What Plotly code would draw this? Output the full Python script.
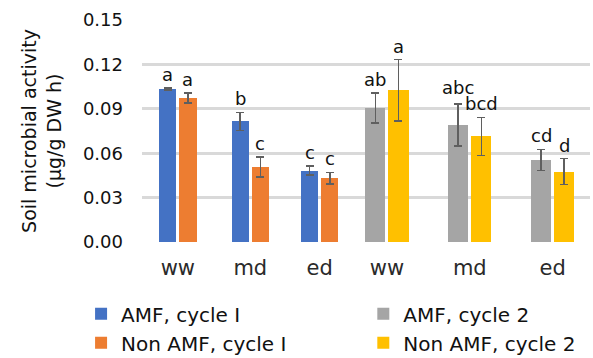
import plotly.graph_objects as go

# Water regimes (x tick labels) for the two drought cycles
regimes = ["ww", "md", "ed", "ww", "md", "ed"]
group_pos = [0.48, 1.45, 2.38, 3.28, 4.39, 5.5]   # horizontal centre of each group

# Soil microbial activity (µg/g DW h), means and standard errors
amf_c1 = [0.1034, 0.0815, 0.0483]
amf_c1_err = [0.0005, 0.0061, 0.0032]
non_c1 = [0.0973, 0.0506, 0.0430]
non_c1_err = [0.0034, 0.0068, 0.0040]
amf_c2 = [0.0906, 0.0790, 0.0555]
amf_c2_err = [0.0102, 0.0142, 0.0071]
non_c2 = [0.1024, 0.0713, 0.0476]
non_c2_err = [0.0208, 0.0129, 0.0088]

# Significance letters
amf_c1_lbl = ["a", "b", "c"]
non_c1_lbl = ["a", "c", "c"]
amf_c2_lbl = ["ab", "abc", "cd"]
non_c2_lbl = ["a", "bcd", "d"]

FONT = "DejaVu Sans"
TXT = "#111111"
ERR_COLOR = "#5f5f5f"

w1, w2, gap = 0.23, 0.27, 0.04

fig = go.Figure()


def add_series(name, pos, vals, errs, color, width, side, legend):
    xs = [p + side * (width / 2 + gap / 2) for p in pos]
    fig.add_trace(go.Bar(
        name=name, x=xs, y=vals, width=[width] * len(vals),
        marker=dict(color=color, line=dict(width=0)),
        error_y=dict(type="data", array=errs, visible=True,
                     color=ERR_COLOR, thickness=1.6, width=4),
        legend=legend, legendgroup=name,
    ))
    return xs


x_a1 = add_series("AMF, cycle I", group_pos[:3], amf_c1, amf_c1_err, "#4472C4", w1, -1, "legend")
x_n1 = add_series("Non AMF, cycle I", group_pos[:3], non_c1, non_c1_err, "#ED7D31", w1, 1, "legend")
x_a2 = add_series("AMF, cycle 2", group_pos[3:], amf_c2, amf_c2_err, "#A5A5A5", w2, -1, "legend2")
x_n2 = add_series("Non AMF, cycle 2", group_pos[3:], non_c2, non_c2_err, "#FFC000", w2, 1, "legend2")

# Letters above the error bars ("abc" lifted a little so it clears "bcd")
for xs, vals, errs, lbls in [(x_a1, amf_c1, amf_c1_err, amf_c1_lbl),
                             (x_n1, non_c1, non_c1_err, non_c1_lbl),
                             (x_a2, amf_c2, amf_c2_err, amf_c2_lbl),
                             (x_n2, non_c2, non_c2_err, non_c2_lbl)]:
    for x, v, e, t in zip(xs, vals, errs, lbls):
        fig.add_annotation(x=x, y=v + e, text=t, showarrow=False,
                           yanchor="bottom", yshift=4 if t == "abc" else 1,
                           font=dict(family=FONT, size=18, color=TXT))

legend_style = dict(orientation="v", yref="container", yanchor="top", y=0.178,
                    xanchor="left", tracegroupgap=7, traceorder="normal",
                    itemwidth=30, bgcolor="rgba(0,0,0,0)",
                    font=dict(family=FONT, size=20, color=TXT))

fig.update_layout(
    width=593, height=358,
    margin=dict(l=142, r=3, t=20, b=116),
    paper_bgcolor="white", plot_bgcolor="white",
    font=dict(family=FONT, color=TXT),
    barmode="overlay",
    bargap=0,
    showlegend=True,
    legend=dict(x=-0.136, **legend_style),
    legend2=dict(x=0.494, **legend_style),
    xaxis=dict(range=[0, 6], tickvals=group_pos, ticktext=regimes,
               showgrid=False, zeroline=False, showline=False, ticks="",
               ticklabelstandoff=11,
               tickfont=dict(family=FONT, size=21, color="#2a2a2a")),
    yaxis=dict(range=[0, 0.15], tickvals=[0, 0.03, 0.06, 0.09, 0.12, 0.15],
               tickformat=".2f", showgrid=True, gridcolor="#d9d9d9", gridwidth=2.5,
               zeroline=False, showline=False, ticks="", ticklabelstandoff=18,
               tickfont=dict(family=FONT, size=18, color=TXT),
               title=dict(text="Soil microbial activity<br>(µg/g DW h)", standoff=16,
                          font=dict(family=FONT, size=19, color=TXT))),
)

fig.write_html("out.html")
